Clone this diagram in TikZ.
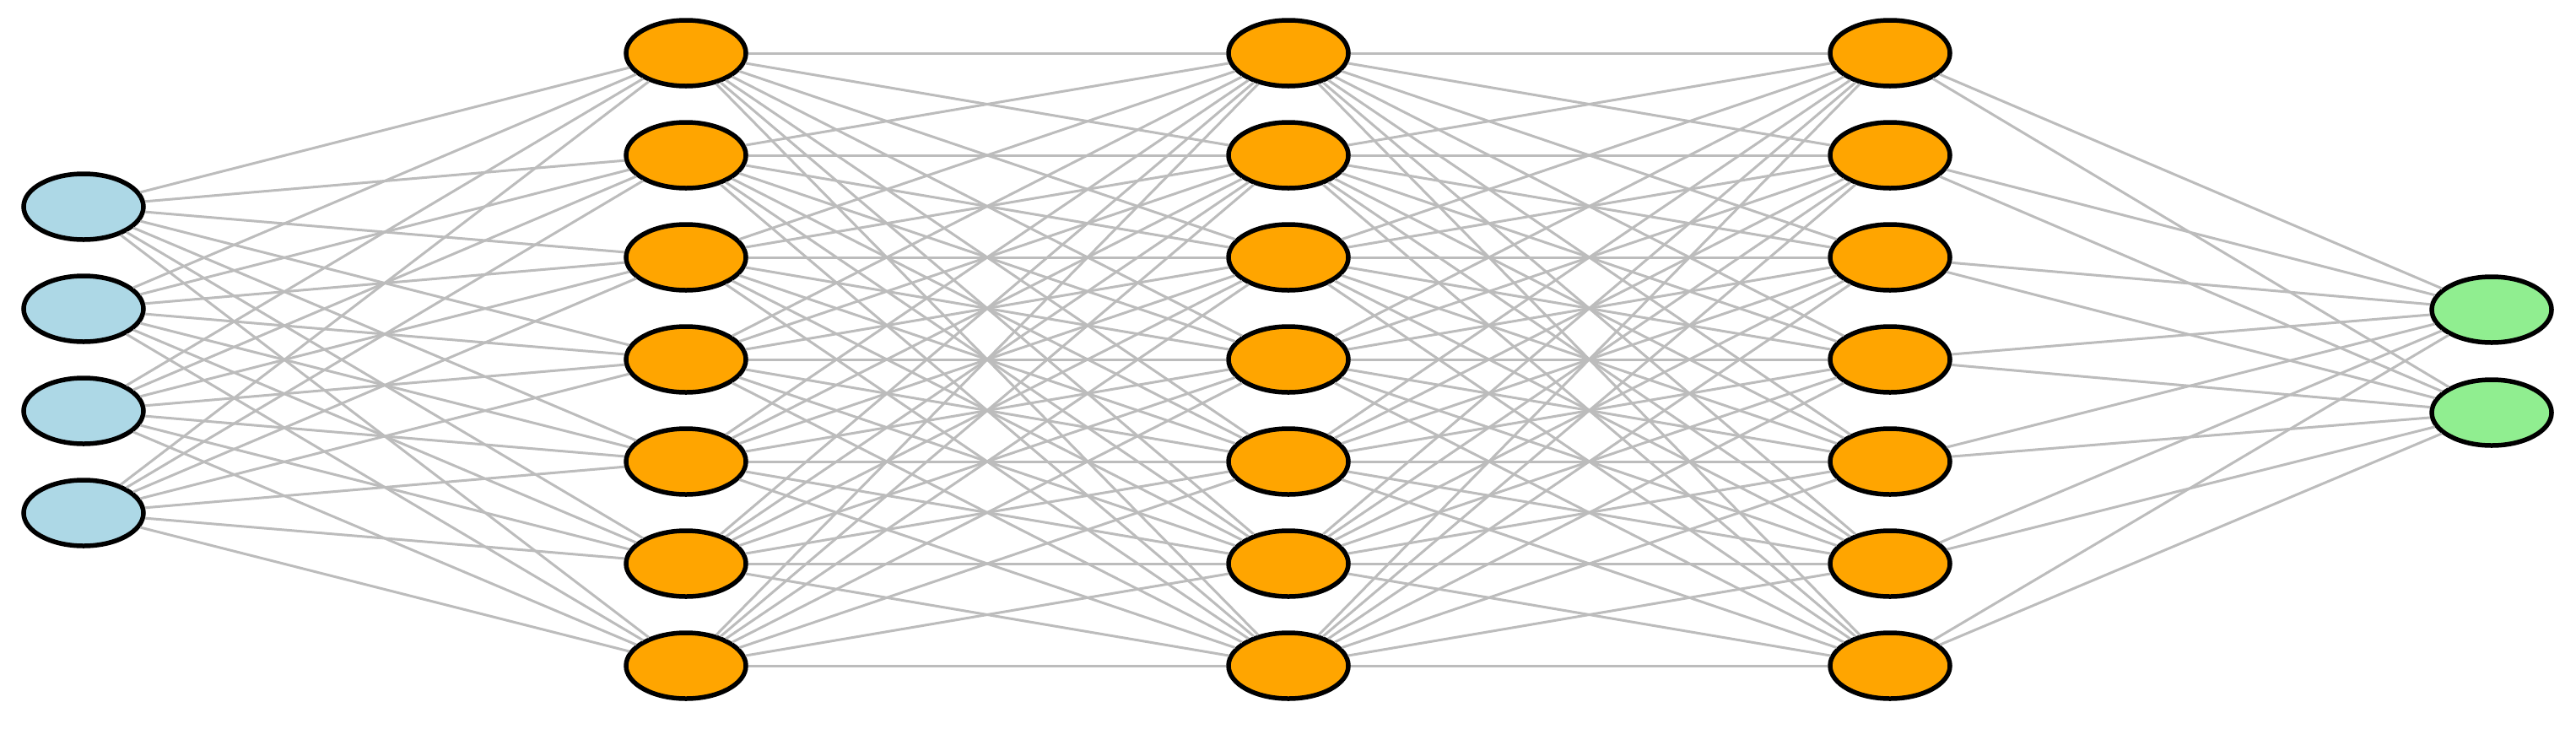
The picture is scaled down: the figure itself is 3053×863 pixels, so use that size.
\documentclass[tikz,border=0pt]{standalone}
\usetikzlibrary{shapes.geometric}
\definecolor{inblue}{RGB}{173,216,230}
\definecolor{hidorange}{RGB}{255,165,0}
\definecolor{outgreen}{RGB}{144,238,144}
\definecolor{linkgray}{RGB}{188,188,188}
\begin{document}
\begin{tikzpicture}[x=1pt,y=-1pt,
  neuron/.style={ellipse,draw=black,line width=5.5pt,minimum width=142pt,minimum height=78pt,inner sep=0pt},
  innode/.style={neuron,fill=inblue},
  hidnode/.style={neuron,fill=hidorange},
  outnode/.style={neuron,fill=outgreen},
  link/.style={draw=linkgray,line width=3pt}]
\useasboundingbox (0,0) rectangle (3053,863);
% input layer
\foreach \i/\y in {1/245,2/366,3/487,4/608}
  \node[innode] (i\i) at (99,\y) {};
% hidden layers
\foreach \l/\x in {1/813,2/1527,3/2240}
  \foreach \j/\y in {1/63,2/184,3/305,4/426,5/547,6/668,7/789}
    \node[hidnode] (h\l-\j) at (\x,\y) {};
% output layer
\foreach \k/\y in {1/367,2/489}
  \node[outnode] (o\k) at (2953,\y) {};
% connections
\foreach \i in {1,...,4}
  \foreach \j in {1,...,7}
    \draw[link] (i\i) -- (h1-\j);
\foreach \a/\b in {1/2,2/3}
  \foreach \i in {1,...,7}
    \foreach \j in {1,...,7}
      \draw[link] (h\a-\i) -- (h\b-\j);
\foreach \i in {1,...,7}
  \foreach \k in {1,2}
    \draw[link] (h3-\i) -- (o\k);
\end{tikzpicture}
\end{document}
